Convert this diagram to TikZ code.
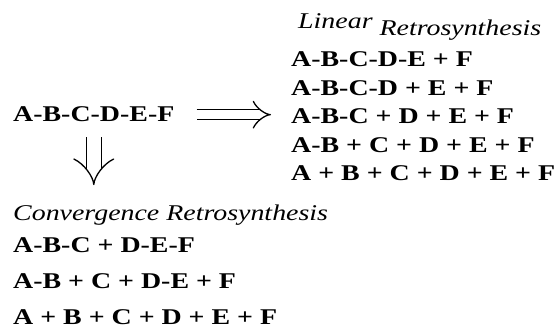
\documentclass[tikz,border=0pt]{standalone}
\usepackage{fontspec}
\setmainfont{Liberation Serif}[FakeStretch=1.24]
\usetikzlibrary{arrows.meta, positioning}

\tikzset{
  chem/.style={font=\fontsize{22.5}{26}\selectfont\bfseries, anchor=base west, inner sep=0pt},
  route/.style={font=\fontsize{22.5}{26}\selectfont\itshape, anchor=base west, inner sep=0pt},
  imply/.style={double, line width=1.3pt, -{Implies}},
}

\begin{document}
\begin{tikzpicture}[x=1pt, y=-1pt]
  \useasboundingbox (0,0) rectangle (557,328);

  % target molecule
  \node[chem] (target) at (13,122) {A-B-C-D-E-F};

  % Linear route
  \node[route] (linlbl) at (298,36) {\raisebox{7pt}{Linear} Retrosynthesis};
  \foreach \i/\txt in {1/{A-B-C-D-E + F}, 2/{A-B-C-D + E + F}, 3/{A-B-C + D + E + F},
                       4/{A-B + C + D + E + F}, 5/{A + B + C + D + E + F}} {
    \node[chem] (lin\i) at (291, 38.5+28.5*\i) {\txt};
  }

  % Convergent route
  \node[route] (conlbl) at (13,221) {Convergence Retrosynthesis};
  \foreach \i/\y/\txt in {1/252.5/{A-B-C + D-E-F}, 2/289/{A-B + C + D-E + F},
                          3/325/{A + B + C + D + E + F}} {
    \node[chem] (con\i) at (13, \y) {\txt};
  }

  % arrows
  \draw[imply, double distance=8.7pt] ([xshift=22pt]target.east)
    -- ([xshift=-20pt]target.east -| lin3.west);
  \draw[imply, double distance=13.7pt] ([yshift=-15pt]target.south)
    -- ([yshift=20pt]target.south |- conlbl.north);
\end{tikzpicture}
\end{document}
